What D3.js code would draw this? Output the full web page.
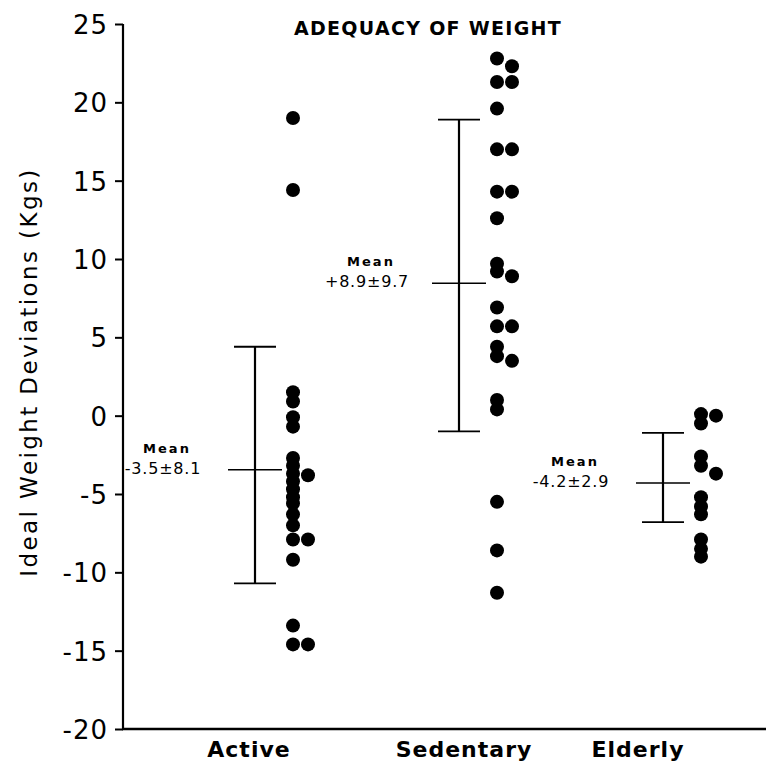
<!DOCTYPE html>
<html>
<head>
<meta charset="utf-8">
<script src="https://cdn.jsdelivr.net/npm/d3@7"></script>
<style>
  html, body { margin: 0; padding: 0; background: #fff; }
  svg { display: block; }
  text { font-family: "DejaVu Sans", sans-serif; fill: #000; }
</style>
</head>
<body>
<svg id="chart" width="766" height="763"></svg>
<script>
// ---- data ----
const categories = ["Active", "Sedentary", "Elderly"];
const title = "ADEQUACY OF WEIGHT";
const yLabel = "Ideal Weight Deviations (Kgs)";
const yTicks = [-20, -15, -10, -5, 0, 5, 10, 15, 20, 25];

// individual deviations, column 0 = main column, column 1 = offset column
const activeMain = [19.0, 14.4, 1.5, 0.9, -0.1, -0.7, -2.7, -3.2, -3.7, -4.2, -4.7, -5.2, -5.6, -6.3, -7.0, -7.9, -9.2, -13.4, -14.6];
const activeSide = [-3.8, -7.9, -14.6];
const sedentaryMain = [22.8, 21.3, 19.6, 17.0, 14.3, 12.6, 9.7, 9.2, 6.9, 5.7, 4.4, 3.8, 1.0, 0.4, -5.5, -8.6, -11.3];
const sedentarySide = [22.3, 21.3, 17.0, 14.3, 8.9, 5.7, 3.5];
const elderlyMain = [0.1, -0.5, -2.6, -3.2, -5.2, -5.8, -6.3, -7.9, -8.5, -9.0];
const elderlySide = [0.0, -3.7];

// summary statistics (drawn error bars)
const means = [-3.45, 8.45, -4.3];
const upper = [4.4, 18.9, -1.1];
const lower = [-10.7, -1.0, -6.8];
const meanLabels = ["-3.5\u00b18.1", "+8.9\u00b19.7", "-4.2\u00b12.9"];

// ---- layout ----
const svg = d3.select("#chart");
const y = d3.scaleLinear().domain([-20, 25]).range([729, 24]);
const x = d3.scalePoint().domain(categories).range([255, 663]);
const labelX = d3.scaleOrdinal().domain(categories).range([249, 464, 638]);
const axisX = 123;
const dotOffset = 38, sideOffset = 15, r = 7;

const points = [];
[[activeMain, activeSide], [sedentaryMain, sedentarySide], [elderlyMain, elderlySide]].forEach((pair, i) => {
  pair[0].forEach(v => points.push({cat: categories[i], v, col: 0}));
  pair[1].forEach(v => points.push({cat: categories[i], v, col: 1}));
});

// y axis
const yAxis = d3.axisLeft(y).tickValues(yTicks).tickSize(8).tickPadding(7).tickFormat(d => String(d));
const gy = svg.append("g").attr("transform", `translate(${axisX},0)`).call(yAxis);
gy.select(".domain").attr("stroke", "#000").attr("stroke-width", 2.2).attr("d", `M0,${y(25)}V${y(-20)}`);
gy.selectAll(".tick line").attr("stroke", "#000").attr("stroke-width", 2);
gy.selectAll(".tick text").style("font-family", "DejaVu Sans, sans-serif").style("font-size", "26px")
  .style("letter-spacing", "1px").attr("dy", "0.36em");

// x axis line
svg.append("line").attr("x1", axisX - 1).attr("x2", 766).attr("y1", y(-20)).attr("y2", y(-20))
  .attr("stroke", "#000").attr("stroke-width", 2.4);

// category labels
svg.selectAll(".cat").data(categories).join("text")
  .attr("x", d => labelX(d)).attr("y", 757)
  .attr("text-anchor", "middle").style("font-size", "22px").style("font-weight", "bold")
  .style("letter-spacing", "1px")
  .text(d => d);

// title
svg.append("text").attr("x", 428).attr("y", 35).attr("text-anchor", "middle")
  .style("font-size", "19px").style("font-weight", "bold").style("letter-spacing", "1.3px").text(title);

// y label
svg.append("text").attr("transform", `translate(37,372) rotate(-90)`).attr("text-anchor", "middle")
  .style("font-size", "23px").style("letter-spacing", "2.4px").text(yLabel);

// error bars
const eb = svg.selectAll(".eb").data(categories).join("g");
eb.append("line").attr("x1", d => x(d)).attr("x2", d => x(d))
  .attr("y1", (d, i) => y(upper[i])).attr("y2", (d, i) => y(lower[i]))
  .attr("stroke", "#000").attr("stroke-width", 2.2);
eb.append("line").attr("x1", d => x(d) - 21).attr("x2", d => x(d) + 21)
  .attr("y1", (d, i) => y(upper[i])).attr("y2", (d, i) => y(upper[i]))
  .attr("stroke", "#000").attr("stroke-width", 1.8);
eb.append("line").attr("x1", d => x(d) - 21).attr("x2", d => x(d) + 21)
  .attr("y1", (d, i) => y(lower[i])).attr("y2", (d, i) => y(lower[i]))
  .attr("stroke", "#000").attr("stroke-width", 1.8);
eb.append("line").attr("x1", d => x(d) - 27).attr("x2", d => x(d) + 27)
  .attr("y1", (d, i) => y(means[i])).attr("y2", (d, i) => y(means[i]))
  .attr("stroke", "#000").attr("stroke-width", 1.5);

// mean labels
eb.append("text").attr("x", d => x(d) - 88).attr("y", (d, i) => y(means[i]) - 17)
  .attr("text-anchor", "middle").style("font-size", "13px").style("font-weight", "bold")
  .style("letter-spacing", "2px").text("Mean");
eb.append("text").attr("x", d => x(d) - 92).attr("y", (d, i) => y(means[i]) + 4)
  .attr("text-anchor", "middle").style("font-size", "16px").style("letter-spacing", "0.8px")
  .text((d, i) => meanLabels[i]);

// dots
svg.selectAll(".dot").data(points).join("circle")
  .attr("cx", d => x(d.cat) + dotOffset + d.col * sideOffset)
  .attr("cy", d => y(d.v)).attr("r", r).attr("fill", "#000");
</script>
</body>
</html>
